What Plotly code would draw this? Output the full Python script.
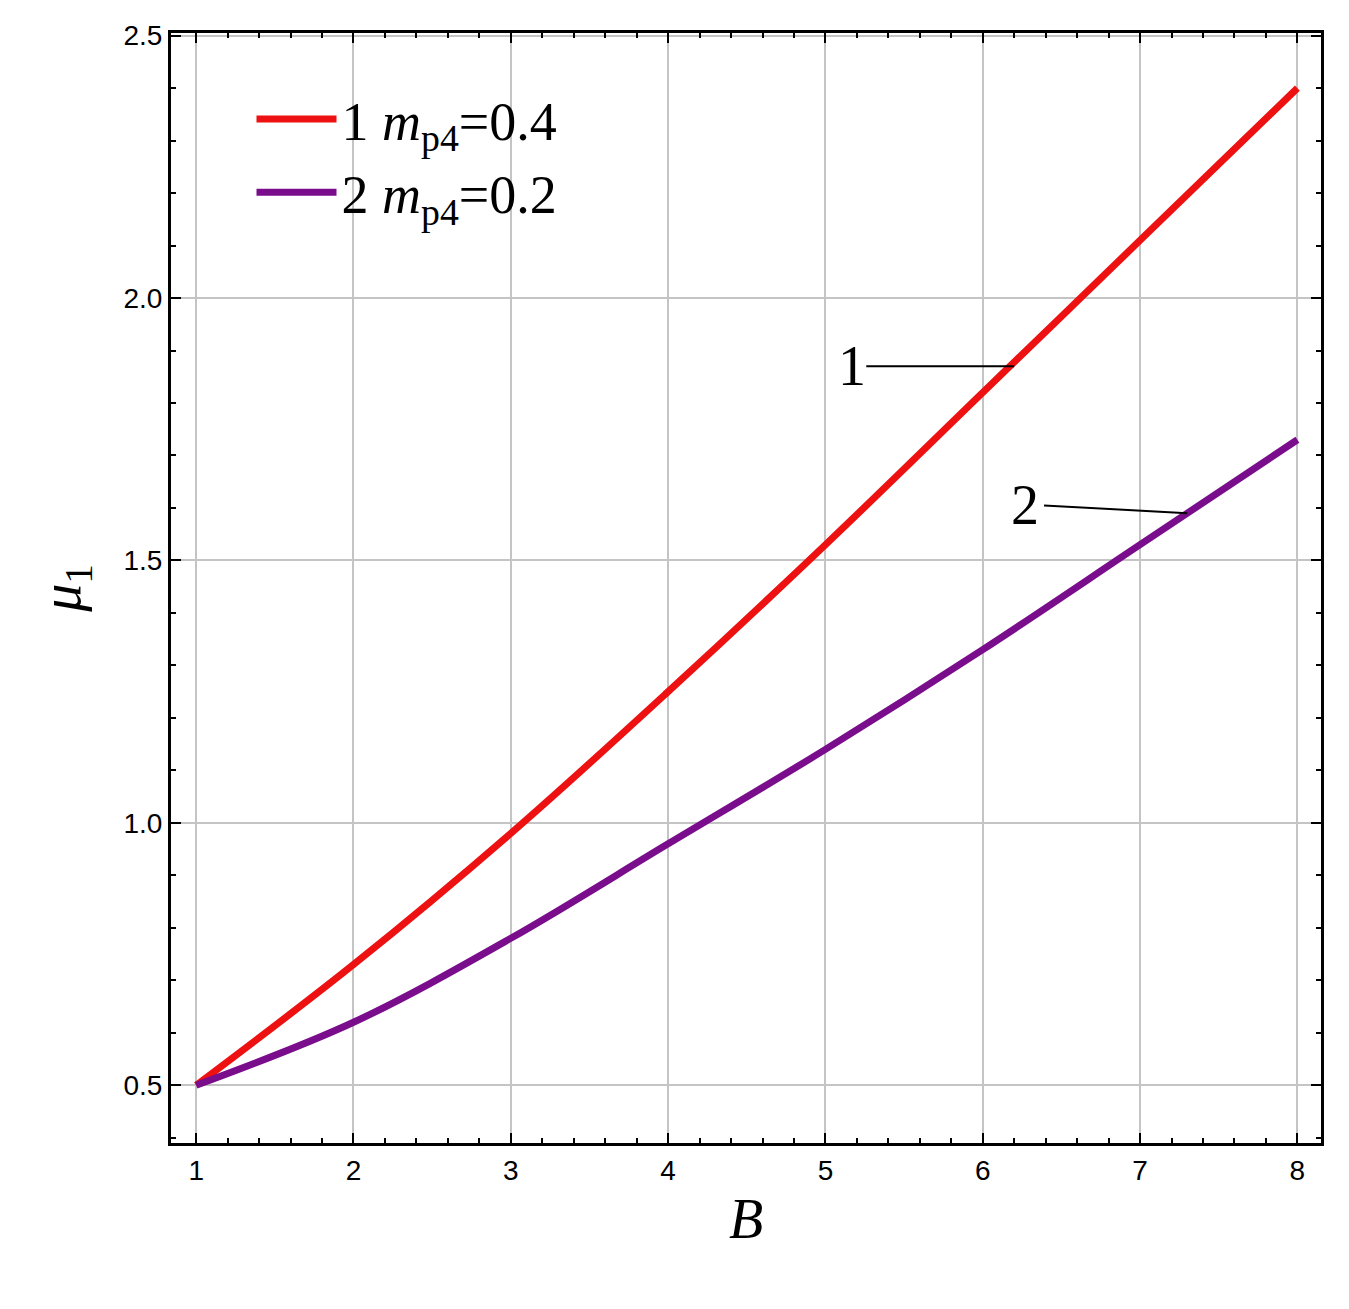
import plotly.graph_objects as go

B = [1, 2, 3, 4, 5, 6, 7, 8]
mu_04 = [0.50, 0.73, 0.98, 1.25, 1.53, 1.82, 2.11, 2.40]
mu_02 = [0.50, 0.62, 0.78, 0.96, 1.14, 1.33, 1.53, 1.73]
names = ["1 <i>m</i><sub>p4</sub>=0.4", "2 <i>m</i><sub>p4</sub>=0.2"]

fig = go.Figure()
fig.add_trace(go.Scatter(x=B, y=mu_04, mode="lines", line=dict(color="#ee1111", width=7, shape="spline"), name=names[0]))
fig.add_trace(go.Scatter(x=B, y=mu_02, mode="lines", line=dict(color="#7a0d8c", width=7, shape="spline"), name=names[1]))

tf = dict(family="Liberation Sans", size=28, color="black")
ax_common = dict(showline=True, linecolor="black", linewidth=3, mirror="allticks",
                 ticks="inside", ticklen=10, tickwidth=2, tickcolor="black",
                 showgrid=True, gridcolor="#c4c4c4", gridwidth=2, zeroline=False)
fig.update_xaxes(range=[0.84, 8.15], dtick=1, tick0=1,
                 minor=dict(dtick=0.2, ticks="inside", ticklen=5, tickcolor="black", showgrid=False),
                 title=dict(text="<i>B</i>", font=dict(family="Liberation Serif", size=56, color="black"), standoff=15), **ax_common)
fig.update_yaxes(range=[0.39, 2.505], dtick=0.5, tick0=0.5, tickformat=".1f",
                 minor=dict(dtick=0.1, ticks="inside", ticklen=5, tickcolor="black", showgrid=False),
                 title=dict(text="<i>μ</i><sub>1</sub>", font=dict(family="Liberation Serif", size=56, color="black"), standoff=25), **ax_common)
fig.update_xaxes(tickfont=tf)
fig.update_yaxes(tickfont=tf)

fig.add_annotation(x=6.2, y=1.87, ax=5.25, ay=1.87, axref="x", ayref="y", xref="x", yref="y",
                   showarrow=True, arrowhead=0, arrowwidth=2, arrowcolor="black", text="")
fig.add_annotation(x=5.17, y=1.87, text="1", showarrow=False, font=dict(family="Liberation Serif", size=56, color="black"))
fig.add_annotation(x=7.3, y=1.59, ax=6.38, ay=1.605, axref="x", ayref="y", xref="x", yref="y",
                   showarrow=True, arrowhead=0, arrowwidth=2, arrowcolor="black", text="")
fig.add_annotation(x=6.27, y=1.605, text="2", showarrow=False, font=dict(family="Liberation Serif", size=56, color="black"))

fig.update_layout(width=1349, height=1309, plot_bgcolor="white", paper_bgcolor="white",
                  margin=dict(l=163, r=36, t=22, b=174),
                  legend=dict(x=0.07, y=0.96, xanchor="left", yanchor="top", bgcolor="rgba(0,0,0,0)",
                              font=dict(family="Liberation Serif", size=54, color="black"), itemwidth=80,
                              tracegroupgap=10),
                  showlegend=True)
fig.write_html("out.html")
